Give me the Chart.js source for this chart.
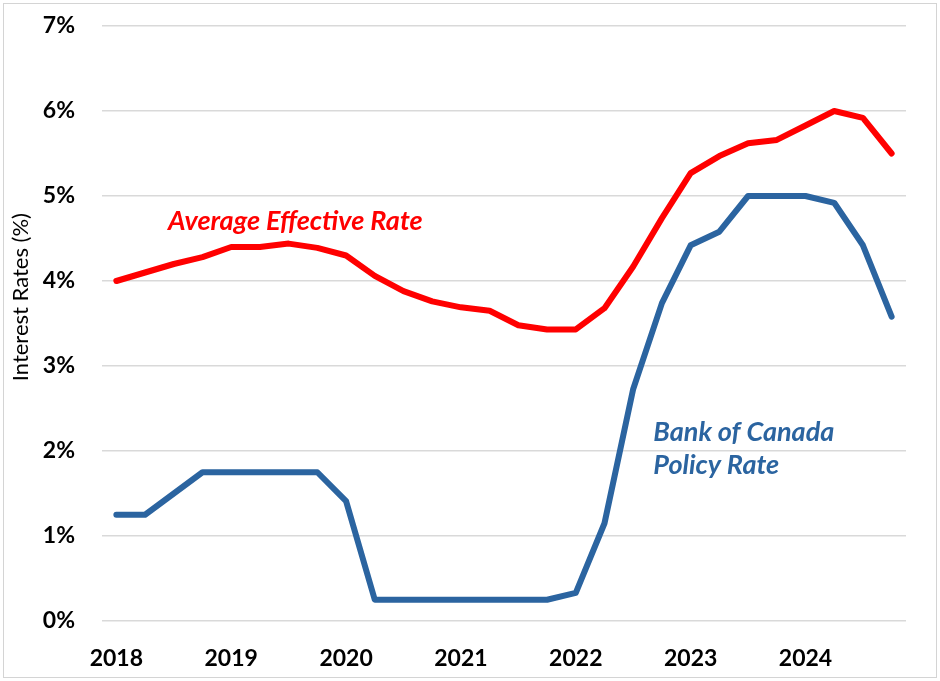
<!DOCTYPE html>
<html>
<head>
<meta charset="utf-8">
<script src="https://cdn.jsdelivr.net/npm/chart.js@4"></script>
<style>
  html, body { margin: 0; padding: 0; background: #fff; }
  #wrap { width: 940px; height: 681px; }
</style>
</head>
<body>
<div id="wrap"><canvas id="chart" width="940" height="681"></canvas></div>
<script>
// quarterly, 2018 Q1 .. 2024 Q4
const quarters = [];
for (let y = 2018; y <= 2024; y++) {
    for (let q = 1; q <= 4; q++) quarters.push(y + ' Q' + q);
}

const avgEffectiveRate = [
    4.00, 4.10, 4.20, 4.28, 4.40, 4.40, 4.44, 4.39,
    4.30, 4.06, 3.88, 3.76, 3.69, 3.65, 3.48, 3.43,
    3.43, 3.68, 4.17, 4.74, 5.27, 5.47, 5.62, 5.66,
    5.83, 6.00, 5.92, 5.50
];

const policyRate = [
    1.25, 1.25, 1.50, 1.75, 1.75, 1.75, 1.75, 1.75,
    1.41, 0.25, 0.25, 0.25, 0.25, 0.25, 0.25, 0.25,
    0.33, 1.15, 2.73, 3.74, 4.42, 4.58, 5.00, 5.00,
    5.00, 4.92, 4.42, 3.58
];

const yTicks = [0, 1, 2, 3, 4, 5, 6, 7];

const RED = '#ff0000';
const BLUE = '#2b64a0';
const FONT = 'Lato, "Open Sans", "Liberation Sans", sans-serif';

// series labels, anchored in data units (category index, percent)
const seriesLabels = [
    { text: 'Average Effective Rate', x: 1.8, y: 4.70, color: RED },
    { text: 'Bank of Canada', x: 18.7, y: 2.22, color: BLUE },
    { text: 'Policy Rate', x: 18.7, y: 1.83, color: BLUE }
];

const decorPlugin = {
    id: 'decor',
    afterDatasetsDraw(chart) {
        const { ctx, scales } = chart;
        ctx.save();
        // series labels
        ctx.font = 'italic bold 27px ' + FONT;
        ctx.textAlign = 'left';
        ctx.textBaseline = 'middle';
        seriesLabels.forEach(l => {
            ctx.fillStyle = l.color;
            ctx.fillText(l.text, scales.x.getPixelForValue(l.x), scales.y.getPixelForValue(l.y));
        });
        // y axis title
        ctx.font = '22px ' + FONT;
        ctx.fillStyle = '#000';
        ctx.textAlign = 'center';
        ctx.translate(21, scales.y.getPixelForValue(3.81));
        ctx.rotate(-Math.PI / 2);
        ctx.fillText('Interest Rates (%)', 0, 0);
        ctx.restore();
        // outer frame
        ctx.save();
        ctx.strokeStyle = '#d4d4d4';
        ctx.lineWidth = 1;
        ctx.strokeRect(3.5, 3.5, chart.width - 7, chart.height - 7);
        ctx.restore();
    }
};

new Chart(document.getElementById('chart'), {
    type: 'line',
    data: {
        labels: quarters,
        datasets: [
            {
                label: 'Average Effective Rate',
                data: avgEffectiveRate,
                borderColor: RED,
                borderWidth: 6,
                pointRadius: 0,
                borderJoinStyle: 'round',
                borderCapStyle: 'round',
                tension: 0
            },
            {
                label: 'Bank of Canada Policy Rate',
                data: policyRate,
                borderColor: BLUE,
                borderWidth: 6,
                pointRadius: 0,
                borderJoinStyle: 'round',
                borderCapStyle: 'round',
                tension: 0
            }
        ]
    },
    options: {
        responsive: false,
        animation: false,
        layout: { padding: { top: 26, right: 34, left: 0, bottom: 0 } },
        plugins: {
            legend: { display: false },
            tooltip: { enabled: false }
        },
        scales: {
            x: {
                type: 'category',
                offset: true,
                grid: { display: false, drawTicks: false },
                border: { display: false },
                afterFit(scale) { scale.height = 60; },
                ticks: {
                    autoSkip: false,
                    maxRotation: 0,
                    padding: 24,
                    color: '#000',
                    font: { family: FONT, size: 23, weight: 'bold' },
                    callback(value, index) {
                        return index % 4 === 0 ? quarters[index].slice(0, 4) : null;
                    }
                }
            },
            y: {
                min: 0,
                max: 7,
                afterFit(scale) {
                    scale.width = 102;
                    // let layout.padding decide the top edge
                    scale.paddingTop = 0;
                    scale.paddingBottom = 0;
                },
                afterBuildTicks(scale) {
                    scale.ticks = yTicks.map(v => ({ value: v }));
                },
                grid: { color: '#d9d9d9', lineWidth: 1.5, drawTicks: false },
                border: { display: false },
                ticks: {
                    padding: 27,
                    color: '#000',
                    font: { family: FONT, size: 23, weight: 'bold' },
                    callback(value) { return value + '%'; }
                }
            }
        }
    },
    plugins: [decorPlugin]
});
</script>
</body>
</html>
